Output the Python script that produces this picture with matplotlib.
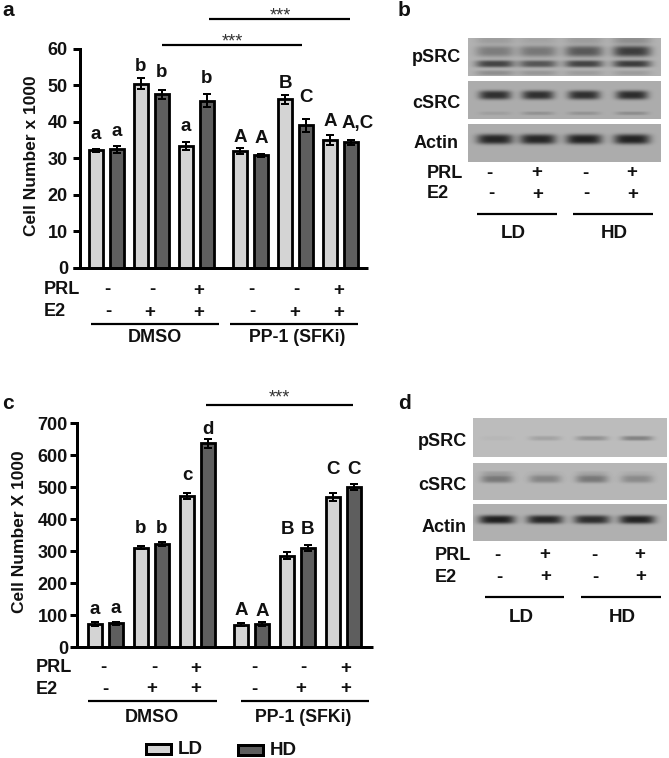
import numpy as np
import matplotlib
matplotlib.use('Agg')
import matplotlib.pyplot as plt

W, H = 669, 758
plt.rcParams['font.family'] = ['Liberation Sans', 'DejaVu Sans']
plt.rcParams['font.weight'] = 'bold'

# ---------- data ----------
a_values = [32.2, 32.5, 50.4, 47.5, 33.5, 45.8, 32.0, 30.8, 46.2, 39.0, 35.0, 34.4]
a_errors = [0.4, 1.0, 1.5, 1.2, 1.1, 1.7, 0.9, 0.4, 1.2, 1.7, 1.3, 0.7]
a_letters = ['a', 'a', 'b', 'b', 'a', 'b', 'A', 'A', 'B', 'C', 'A', 'A,C']
c_values = [72, 74, 311, 323, 472, 638, 70, 73, 285, 310, 470, 501]
c_errors = [7, 4, 5, 6, 9, 14, 5, 6, 11, 10, 13, 10]
c_letters = ['a', 'a', 'b', 'b', 'c', 'd', 'A', 'A', 'B', 'B', 'C', 'C']
a_ticks = [0, 10, 20, 30, 40, 50, 60]
c_ticks = [0, 100, 200, 300, 400, 500, 600, 700]
prl_signs = ['-', '-', '+', '-', '-', '+']
e2_signs = ['-', '+', '+', '-', '+', '+']
blot_prl = ['-', '+', '-', '+']
blot_e2 = ['-', '+', '-', '+']

# band darkness per lane (LD-, LD+, HD-, HD+)
b_psrc_upper = [0.30, 0.33, 0.50, 0.66]
b_psrc_lower = [0.62, 0.52, 0.62, 0.66]
b_csrc = [0.72, 0.72, 0.72, 0.74]
b_actin = [0.78, 0.78, 0.80, 0.80]
d_psrc = [0.03, 0.13, 0.22, 0.30]
d_csrc = [0.34, 0.27, 0.34, 0.24]
d_actin = [0.82, 0.78, 0.74, 0.80]

# ---------- layout (pixels) ----------
LIGHT, DARK = '#d4d4d4', '#5e5e5e'
PX = 0.72
fig = plt.figure(figsize=(W / 100, H / 100), dpi=100, facecolor='white')


def px_axes(x0, y0, x1, y1):
    return fig.add_axes([x0 / W, 1 - y1 / H, (x1 - x0) / W, (y1 - y0) / H])


ov = fig.add_axes([0, 0, 1, 1], zorder=5)
ov.patch.set_alpha(0)
ov.axis('off')


def txt(x, y, s, size=12, ha='left', va='center', **kw):
    kw.setdefault('color', '#111111')
    ov.text(x, y + (1 if va == 'center' else 0), s, fontsize=size, ha=ha, va=va, **kw)


def hline(x0, x1, y, lw=2.2):
    ov.plot([x0, x1], [y, y], color='black', lw=lw * PX, solid_capstyle='butt')


def bar_panel(box, ymax, values, errors, letters, offsets, ticks, x0, pair_gap, group_gap,
              axis_span, ylabel, ylabel_xy, tick_right):
    left, top, right, bottom = box
    ax = px_axes(left, top, right, bottom)
    ax.patch.set_alpha(0)
    ax.set_xlim(left, right)
    ax.set_ylim(0, ymax)
    xs = [x0 + 21 * i + pair_gap * (i // 2) + group_gap * (i // 6) for i in range(len(values))]
    colors = [LIGHT if i % 2 == 0 else DARK for i in range(len(values))]
    ax.bar(xs, values, width=13.5, color=colors, edgecolor='black', linewidth=2.8 * PX, zorder=2)
    ax.errorbar(xs, values, yerr=errors, fmt='none', ecolor='black', elinewidth=2 * PX,
                capsize=3.5 * PX * 1.1, capthick=2 * PX, zorder=3)
    for x, v, e, s, o in zip(xs, values, errors, letters, offsets):
        shift = 7 if s == 'A,C' else 0
        ax.annotate(s, (x + shift, v + e), xytext=(0, o * PX), textcoords='offset points',
                    ha='center', va='baseline', fontsize=13.5, color='#111111')
    for sp in ('top', 'right', 'bottom'):
        ax.spines[sp].set_visible(False)
    ax.spines['left'].set_linewidth(3 * PX)
    ax.set_xticks([])
    ax.set_yticks(ticks)
    ax.set_yticklabels([])
    ax.tick_params(axis='y', length=7 * PX, width=3 * PX, color='black')
    px_per = (bottom - top) / ymax
    for t in ticks:
        txt(tick_right, bottom - t * px_per + 1, str(t), size=13, ha='right')
    hline(axis_span[0], axis_span[1], bottom, lw=3)
    txt(ylabel_xy[0], ylabel_xy[1], ylabel, size=12.5, ha='center', rotation=90)


def sign_rows(prl_y, e2_y, prl_x, e2_x, lab_x, prl, e2):
    txt(lab_x, prl_y, 'PRL', size=13)
    txt(lab_x, e2_y, 'E2', size=13)
    for x, s in zip(prl_x, prl):
        txt(x, prl_y, s, size=13.5, ha='center')
    for x, s in zip(e2_x, e2):
        txt(x, e2_y, s, size=13.5, ha='center')


def blot(box, lanes, half, rows, bg=168):
    """rows: list of (y fraction, thickness px, darkness per lane)"""
    x0, y0, x1, y1 = box
    w, h = int(x1 - x0), int(y1 - y0)
    xx, yy = np.meshgrid(np.arange(w) + x0 + .5, np.arange(h) + .5)
    dark = np.zeros((h, w))
    for yf, th, levels in rows:
        for xc, lv in zip(lanes, levels):
            prof_x = np.exp(-np.abs((xx - xc) / half) ** 4)
            prof_y = np.exp(-np.abs((yy - yf * h) / th) ** 3)
            dark += lv * prof_x * prof_y
    img = np.clip(bg * (1 - dark), 0, 255)
    ov.imshow(img, extent=(x0, x1, y1, y0), cmap='gray', vmin=0, vmax=255,
              aspect='auto', interpolation='bilinear', zorder=1)


# ---------- panel a ----------
bar_panel((80, 48.7, 368, 268), 60, a_values, a_errors, a_letters,
          [10, 10, 7, 13, 11, 11, 6, 11, 7, 17, 9, 12], a_ticks, 96, 3, 9,
          (73, 368), 'Cell Number x 1000', (32, 155), 68)
sign_rows(289, 311, [107, 152, 199, 251, 296, 339], [108, 150, 199, 252, 295, 339], 44,
          prl_signs, e2_signs)
hline(91, 219, 324)
hline(230, 358, 324)
txt(155, 337, 'DMSO', size=13, ha='center')
txt(297, 337, 'PP-1 (SFKi)', size=12.8, ha='center')
hline(209, 350, 19)
txt(280, 15, '***', size=13, ha='center', weight='normal', color='#333333')
hline(162, 302, 45)
txt(232, 41, '***', size=13, ha='center', weight='normal', color='#333333')

# ---------- panel c ----------
bar_panel((77, 423.3, 373, 647), 700, c_values, c_errors, c_letters,
          [8, 9, 13, 9, 13, 5, 8, 6, 18, 11, 19, 10], c_ticks, 95, 4, 8,
          (71, 373), 'Cell Number X 1000', (20, 531), 68)
sign_rows(667, 688, [103, 154, 196, 254, 303, 346], [105, 152, 196, 254, 301, 346], 36,
          prl_signs, e2_signs)
hline(88, 217, 701)
hline(241, 369, 701)
txt(152, 717, 'DMSO', size=13, ha='center')
txt(303, 717, 'PP-1 (SFKi)', size=12.8, ha='center')
hline(206, 353, 405)
txt(279, 397, '***', size=13, ha='center', weight='normal', color='#333333')

# legend
for (x0, x1, y0, y1, col, lab, tx) in [(146, 171, 743.5, 754, LIGHT, 'LD', 178),
                                       (238, 263, 744.5, 755, DARK, 'HD', 270)]:
    ov.fill([x0, x1, x1, x0], [y0, y0, y1, y1], facecolor=col, edgecolor='black', lw=3 * PX)
    txt(tx, (y0 + y1) / 2 - 0.5, lab, size=13.5)

# ---------- panel b ----------
lanes_b = [495, 538, 584, 632]
blot((468, 38, 661, 76), lanes_b, 19, [(0.35, 5.5, b_psrc_upper), (0.68, 3.5, b_psrc_lower),
                                      (0.92, 2.5, [0.2, 0.15, 0.12, 0.12]),
                                      (0.05, 4, [0.12, 0.08, 0.12, 0.2])], bg=178)
blot((468, 81, 661, 119), lanes_b, 16, [(0.37, 4.5, b_csrc), (0.85, 1.8, [0.08, 0.15, 0.14, 0.18])], bg=172)
blot((468, 124, 661, 162), lanes_b, 18, [(0.40, 5, b_actin)], bg=172)
txt(412, 57, 'pSRC', size=13)
txt(412, 102, 'cSRC', size=13)
txt(414, 143, 'Actin', size=13)
sign_rows(172, 193, [489, 537, 585, 632], [491, 538, 586, 633], 427, blot_prl, blot_e2)
hline(477, 557, 214)
hline(573, 653, 214)
txt(513, 233, 'LD', size=13.5, ha='center')
txt(614, 233, 'HD', size=13.5, ha='center')

# ---------- panel d ----------
lanes_d = [497, 545, 592, 637]
blot((473, 418, 667, 457), lanes_d, 16, [(0.52, 2.4, d_psrc)], bg=188)
blot((473, 463, 667, 500), lanes_d, 16, [(0.43, 4, d_csrc), (0.27, 2, [0.12, 0.04, 0.08, 0.05])], bg=182)
blot((473, 504, 667, 541), lanes_d, 18, [(0.42, 4.3, d_actin)], bg=176)
txt(418, 441, 'pSRC', size=13)
txt(418, 484, 'cSRC', size=13)
txt(422, 526, 'Actin', size=13)
sign_rows(554, 576, [497, 545, 594, 640], [499, 546, 595, 641], 435, blot_prl, blot_e2)
hline(485, 564, 597)
hline(581, 661, 597)
txt(521, 616, 'LD', size=13.5, ha='center')
txt(622, 616, 'HD', size=13.5, ha='center')

# panel letters
for x, y, s in [(2, 16, 'a'), (398, 16, 'b'), (2, 409, 'c'), (398, 409, 'd')]:
    txt(x, y, s, size=15, va='baseline')

ov.set_xlim(0, W)
ov.set_ylim(H, 0)
fig.savefig('out.png', dpi=100)
